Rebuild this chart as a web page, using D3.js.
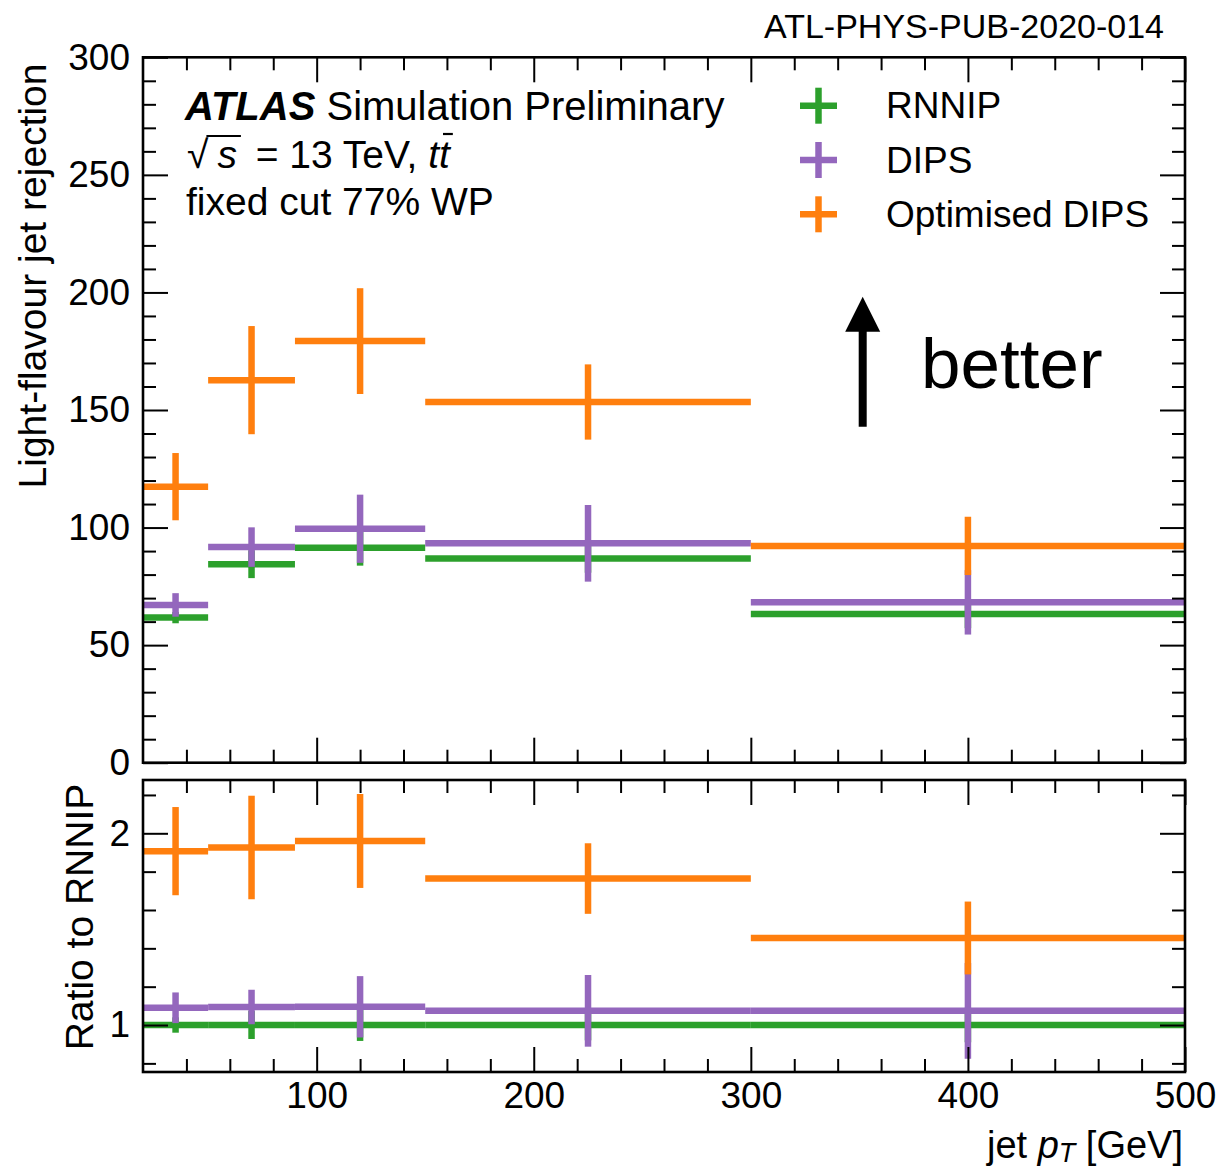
<!DOCTYPE html>
<html>
<head>
<meta charset="utf-8">
<script src="https://cdn.jsdelivr.net/npm/d3@7"></script>
<style>
  body { margin: 0; background: #fff; }
  text { font-family: "Liberation Sans", Arial, Helvetica, sans-serif; fill: #000; }
</style>
</head>
<body>
<svg id="chart"></svg>
<script>
// ---------------------------------------------------------------------------
// Data.

var binEdges = [20, 50, 90, 150, 300, 500];
var binCentres = [35, 70, 120, 225, 400];
var seriesNames = ["RNNIP", "DIPS", "Optimised DIPS"];

var rnnipRej = [61.7, 84.4, 91.4, 86.8, 63.2];
var rnnipRejErr = [2.4, 5.9, 7.6, 6.0, 6.0];
var dipsRej = [67.1, 91.7, 99.5, 93.3, 68.2];
var dipsRejErr = [5.0, 8.4, 14.5, 16.3, 13.7];
var optRej = [117.4, 162.7, 179.3, 153.4, 92.2];
var optRejErr = [14.3, 23.0, 22.5, 16.0, 12.4];

var rnnipRatio = [1, 1, 1, 1, 1];
var rnnipRatioErr = [0.04, 0.073, 0.083, 0.08, 0.09];
var dipsRatio = [1.09, 1.094, 1.095, 1.074, 1.074];
var dipsRatioErr = [0.08, 0.09, 0.16, 0.187, 0.25];
var optRatio = [1.907, 1.926, 1.96, 1.764, 1.454];
var optRatioErr = [0.23, 0.27, 0.245, 0.184, 0.19];

var mainMajorTicks = [0, 50, 100, 150, 200, 250, 300];
var ratioMajorTicks = [1, 2];
var xMajorTicks = [100, 200, 300, 400, 500];

// ---------------------------------------------------------------------------
// Layout.

var colours = ["#2ca02c", "#9467bd", "#ff7f0e"];
var barWidth = 6.5;

var svg = d3.select("#chart")
    .attr("width", 1223)
    .attr("height", 1169)
;

var x = d3.scaleLinear().domain([20, 500]).range([143, 1185]);
var yMain = d3.scaleLinear().domain([0, 300]).range([762.7, 57.3]);
var yRatio = d3.scaleLinear().domain([0.755, 2.278]).range([1072, 780]);

var xMinor = d3.range(40, 500, 20).filter(function(v) { return v % 100 !== 0; });
var mainMinor = d3.range(10, 300, 10).filter(function(v) { return v % 50 !== 0; });
var ratioMinor = [0.8, 1.2, 1.4, 1.6, 1.8, 2.2];

// Ticks on all four sides, pointing inwards.
function ticks(g, axis, tr) {
    var a = g.append("g")
        .attr("transform", tr)
        .call(axis)
    ;
    a.select(".domain").remove();
    a.selectAll("line").attr("stroke", "#000").attr("stroke-width", 2);
    a.selectAll("text")
        .style("font-family", '"Liberation Sans", Arial, Helvetica, sans-serif')
        .style("font-size", "37px")
        .attr("fill", "#000")
    ;
    return a;
}

function drawPanel(y, majors, minors, labelFmt, showX) {
    var g = svg.append("g");
    var x0 = x.range()[0], x1 = x.range()[1];
    var yb = y.range()[0], yt = y.range()[1];

    // y ticks
    ticks(g, d3.axisLeft(y).tickValues(majors).tickSize(-25).tickPadding(13).tickFormat(labelFmt), "translate(" + x0 + ",0)");
    ticks(g, d3.axisLeft(y).tickValues(minors).tickSize(-13).tickFormat(""), "translate(" + x0 + ",0)");
    ticks(g, d3.axisRight(y).tickValues(majors).tickSize(-25).tickFormat(""), "translate(" + x1 + ",0)");
    ticks(g, d3.axisRight(y).tickValues(minors).tickSize(-13).tickFormat(""), "translate(" + x1 + ",0)");

    // x ticks
    ticks(g, d3.axisBottom(x).tickValues(xMajorTicks).tickSize(-25).tickPadding(10)
        .tickFormat(showX ? d3.format("d") : ""), "translate(0," + yb + ")");
    ticks(g, d3.axisBottom(x).tickValues(xMinor).tickSize(-13).tickFormat(""), "translate(0," + yb + ")");
    ticks(g, d3.axisTop(x).tickValues(xMajorTicks).tickSize(-25).tickFormat(""), "translate(0," + yt + ")");
    ticks(g, d3.axisTop(x).tickValues(xMinor).tickSize(-13).tickFormat(""), "translate(0," + yt + ")");

    g.append("rect")
        .attr("x", x0).attr("y", yt)
        .attr("width", x1 - x0).attr("height", yb - yt)
        .attr("fill", "none")
        .attr("stroke", "#000")
        .attr("stroke-width", 2.6)
    ;
    return g;
}

function drawSeries(g, y, vals, errs, colour) {
    var pts = vals.map(function(v, i) {
        return { lo: binEdges[i], hi: binEdges[i + 1], c: binCentres[i], v: v, e: errs[i] };
    });
    var s = g.append("g")
        .attr("stroke", colour)
        .attr("stroke-width", barWidth)
        .attr("stroke-linecap", "butt")
    ;
    s.selectAll(".h").data(pts).enter().append("line")
        .attr("x1", function(d) { return x(d.lo); })
        .attr("x2", function(d) { return x(d.hi); })
        .attr("y1", function(d) { return y(d.v); })
        .attr("y2", function(d) { return y(d.v); })
    ;
    s.selectAll(".v").data(pts).enter().append("line")
        .attr("x1", function(d) { return x(d.c); })
        .attr("x2", function(d) { return x(d.c); })
        .attr("y1", function(d) { return y(d.v - d.e); })
        .attr("y2", function(d) { return y(d.v + d.e); })
    ;
}

var dataMain = svg.append("g");
drawSeries(dataMain, yMain, rnnipRej, rnnipRejErr, colours[0]);
drawSeries(dataMain, yMain, dipsRej, dipsRejErr, colours[1]);
drawSeries(dataMain, yMain, optRej, optRejErr, colours[2]);

var dataRatio = svg.append("g");
drawSeries(dataRatio, yRatio, rnnipRatio, rnnipRatioErr, colours[0]);
drawSeries(dataRatio, yRatio, dipsRatio, dipsRatioErr, colours[1]);
drawSeries(dataRatio, yRatio, optRatio, optRatioErr, colours[2]);

drawPanel(yMain, mainMajorTicks, mainMinor, d3.format("d"), false);
drawPanel(yRatio, ratioMajorTicks, ratioMinor, d3.format("d"), true);

// ---------------------------------------------------------------------------
// Axis titles.

svg.append("text")
    .attr("transform", "translate(46,276) rotate(-90)")
    .attr("text-anchor", "middle")
    .style("font-size", "39px")
    .text("Light-flavour jet rejection")
;

svg.append("text")
    .attr("transform", "translate(93,917) rotate(-90)")
    .attr("text-anchor", "middle")
    .style("font-size", "39px")
    .text("Ratio to RNNIP")
;

var xTitle = svg.append("text")
    .attr("x", 1183)
    .attr("y", 1158)
    .attr("text-anchor", "end")
    .style("font-size", "38px")
;
xTitle.append("tspan").text("jet ");
xTitle.append("tspan").style("font-style", "italic").text("p");
xTitle.append("tspan").style("font-style", "italic").style("font-size", "27px").attr("dy", 4).text("T");
xTitle.append("tspan").attr("dy", -4).text(" [GeV]");

svg.append("text")
    .attr("x", 1164)
    .attr("y", 38)
    .attr("text-anchor", "end")
    .style("font-size", "34px")
    .text("ATL-PHYS-PUB-2020-014")
;

// ---------------------------------------------------------------------------
// ATLAS label.

var atlas = svg.append("text")
    .attr("x", 185)
    .attr("y", 120)
    .style("font-size", "40px")
;
atlas.append("tspan").style("font-weight", "bold").style("font-style", "italic").text("ATLAS");
atlas.append("tspan").text(" Simulation Preliminary");

var energy = svg.append("text")
    .attr("x", 187)
    .attr("y", 168)
    .style("font-size", "39px")
;
energy.append("tspan").text("\u221A");
energy.append("tspan").style("font-style", "italic").attr("dx", 9).text("s");
energy.append("tspan").attr("dx", 8).text(" = 13 TeV, ");
energy.append("tspan").style("font-style", "italic").text("tt");

// overbars for sqrt and t-bar
(function() {
    var node = energy.node();
    var sq = node.getExtentOfChar(0);
    var sChar = node.getExtentOfChar(1);
    svg.append("line")
        .attr("x1", sq.x + sq.width - 2).attr("x2", sChar.x + sChar.width + 4)
        .attr("y1", sq.y + 3).attr("y2", sq.y + 3)
        .attr("stroke", "#000").attr("stroke-width", 2.2)
    ;
    var n = node.getNumberOfChars();
    var t2 = node.getExtentOfChar(n - 1);
    svg.append("line")
        .attr("x1", t2.x + 4).attr("x2", t2.x + t2.width + 3)
        .attr("y1", sq.y + 1).attr("y2", sq.y + 1)
        .attr("stroke", "#000").attr("stroke-width", 2.2)
    ;
})();

svg.append("text")
    .attr("x", 186)
    .attr("y", 215)
    .style("font-size", "39px")
    .text("fixed cut 77% WP")
;

// ---------------------------------------------------------------------------
// Legend.

var legendY = d3.scalePoint().domain(seriesNames).range([105.7, 214.3]);
var legend = svg.append("g");
seriesNames.forEach(function(name, i) {
    var cy = legendY(name);
    var item = legend.append("g").attr("stroke", colours[i]).attr("stroke-width", barWidth);
    item.append("line").attr("x1", 800).attr("x2", 837).attr("y1", cy).attr("y2", cy);
    item.append("line").attr("x1", 818.5).attr("x2", 818.5).attr("y1", cy - 18).attr("y2", cy + 18);
    legend.append("text")
        .attr("x", 886)
        .attr("y", cy + 12.5)
        .style("font-size", "37px")
        .text(name)
    ;
});

// ---------------------------------------------------------------------------
// "better" arrow.

svg.append("line")
    .attr("x1", 862.7).attr("x2", 862.7)
    .attr("y1", 426.7).attr("y2", 328)
    .attr("stroke", "#000").attr("stroke-width", 8)
;
svg.append("path")
    .attr("d", "M862.7,296.7 L880.2,331.7 L845.2,331.7 Z")
    .attr("fill", "#000")
;
svg.append("text")
    .attr("x", 921)
    .attr("y", 388)
    .style("font-size", "71px")
    .text("better")
;
</script>
</body>
</html>
